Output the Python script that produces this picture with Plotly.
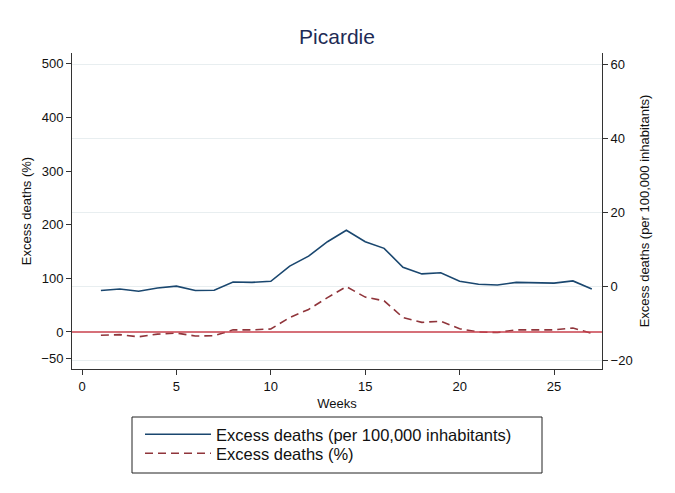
import plotly.graph_objects as go

weeks = list(range(1, 28))
per100k = [-1.2, -0.8, -1.4, -0.5, 0.0, -1.2, -1.1, 1.1, 1.0, 1.3, 5.4, 8.1, 12.0, 15.1,
           12.0, 10.2, 5.1, 3.3, 3.6, 1.3, 0.5, 0.3, 1.0, 0.9, 0.8, 1.4, -0.8]
pct = [-6, -5, -9, -4, -2, -7.5, -7, 4, 4, 5.6, 27, 42, 64, 84.5,
       65, 58, 27, 18, 20, 6, 0, -1, 4, 4, 4, 7.5, -2.5]

x_ticks = [0, 5, 10, 15, 20, 25]
y_ticks = [-50, 0, 100, 200, 300, 400, 500]
y2_ticks = [-20, 0, 20, 40, 60]

FONT = "Liberation Sans, Arial, Helvetica, sans-serif"
NAVY = "#1a476f"
MAROON = "#90353b"

W, H = 667, 485
L, T = 64, 45
PW, PH = 530, 316

fig = go.Figure()
fig.add_trace(go.Scatter(x=weeks, y=per100k, mode="lines", yaxis="y2",
                         name="Excess deaths (per 100,000 inhabitants)",
                         legend="legend",
                         line=dict(color=NAVY, width=1.6)))
fig.add_trace(go.Scatter(x=weeks, y=pct, mode="lines", yaxis="y",
                         name="Excess deaths (%)", legend="legend2",
                         line=dict(color=MAROON, width=1.6, dash="8px,5px")))

fig.add_shape(type="line", xref="paper", x0=0, x1=1, yref="y", y0=0, y1=0,
              line=dict(color="#c8404c", width=1.5), layer="above")
fig.add_shape(type="rect", xref="paper", yref="paper",
              x0=(132-72)/PW, x1=(542-72)/PW, y0=(369-473)/PH, y1=(369-417)/PH,
              line=dict(color="#222", width=1), fillcolor="rgba(0,0,0,0)")

leg_common = dict(xanchor="left", yanchor="top", bgcolor="rgba(0,0,0,0)", borderwidth=0,
                  font=dict(size=16.5, color="#111", family=FONT), itemwidth=66)

fig.update_layout(
    width=W, height=H,
    margin=dict(l=L, r=W - L - PW, t=T, b=H - T - PH, pad=0),
    paper_bgcolor="white", plot_bgcolor="white",
    font=dict(family=FONT, size=13, color="#111"),
    title=dict(text="Picardie", x=0.5, xanchor="center", xref="paper",
               y=1 - 29/H, yanchor="middle",
               font=dict(size=21, color="#1e2b55", family=FONT)),
    showlegend=True,
    legend=dict(x=(140-72)/PW, y=(369-417)/PH, **leg_common),
    legend2=dict(x=(140-72)/PW, y=(369-436)/PH, **leg_common),
    xaxis=dict(range=[-0.53, 27.54], tickvals=x_ticks, ticks="outside", ticklen=5,
               tickcolor="#333", showline=True, linecolor="#333", linewidth=1,
               showgrid=False, zeroline=False, mirror=False,
               title=dict(text="Weeks", font=dict(size=13), standoff=6),
               tickfont=dict(size=13)),
    yaxis=dict(range=[-69, 520], tickvals=y_ticks, ticks="outside", ticklen=5,
               tickcolor="#333", showline=True, linecolor="#333", linewidth=1,
               showgrid=False, zeroline=False,
               title=dict(text="Excess deaths (%)", font=dict(size=13), standoff=6),
               tickfont=dict(size=13)),
    yaxis2=dict(range=[-22.4, 63], tickvals=y2_ticks, overlaying="y", side="right",
                ticks="outside", ticklen=5, tickcolor="#333", showline=True,
                linecolor="#333", linewidth=1, showgrid=True, gridcolor="#e8eef0",
                gridwidth=1, zeroline=False,
                title=dict(text="Excess deaths (per 100,000 inhabitants)",
                           font=dict(size=13), standoff=8),
                tickfont=dict(size=13)),
)

fig.write_html("out.html")
